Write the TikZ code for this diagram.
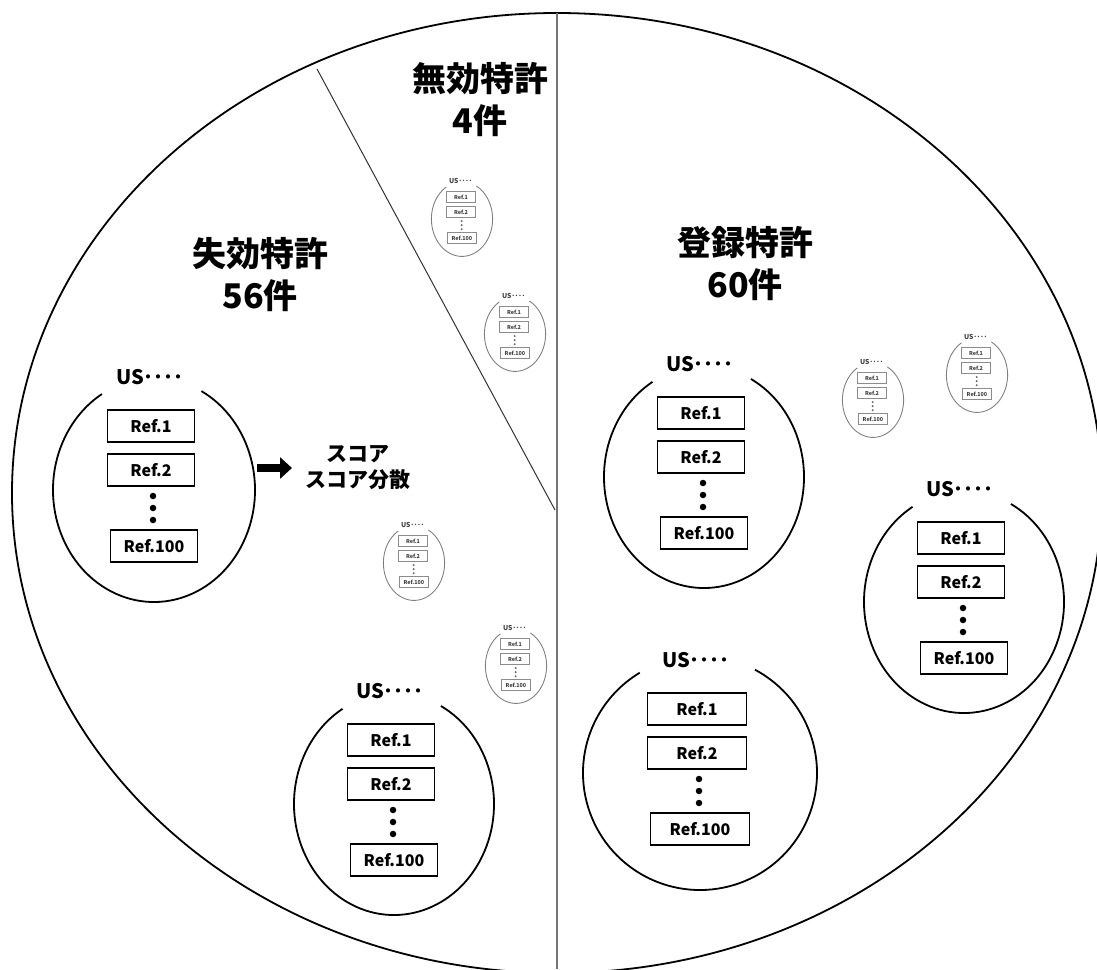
\documentclass[tikz,border=0pt]{standalone}
\usepackage{fontspec}
\setmainfont{Noto Sans CJK JP}
\usetikzlibrary{positioning,arrows.meta}

\tikzset{
  refbox/.style={draw, line width=1.8pt, minimum width=87pt, minimum height=32pt, inner sep=0pt, font=\fontsize{16}{16}\selectfont\bfseries},
  uslabel/.style={inner sep=0pt, font=\fontsize{20}{20}\selectfont\bfseries},
  refdot/.style={circle, fill, inner sep=0pt, minimum size=6.5pt},
  usring/.style={line width=1.8pt},
  faded/.style={scale=0.34, transform shape,
    refbox/.append style={draw=black!45, line width=0.7pt, text=black!75},
    usring/.append style={draw=black!50, line width=0.9pt},
    uslabel/.append style={text=black!75},
    refdot/.append style={fill=black!60}},
  bigtitle/.style={inner sep=0pt, align=center, font=\fontsize{34}{42}\selectfont\bfseries},
  scoretext/.style={inner sep=0pt, align=center, font=\fontsize{21}{26}\selectfont\bfseries},
  fatarrow/.style={line width=8pt, -{Triangle[length=12pt,width=21pt]}, shorten >=13pt}
}

% one patent: US number, its references, ring round them
\newcommand{\usgroup}[5][]{%
  \begin{scope}[shift={#3}, #1]
    \node[uslabel] (#2-us) at (-4,-113) {US････};
    \node[refbox] (#2-r1) at (-3,-64) {Ref.1};
    \node[refbox] (#2-r2) at (-3,-20) {Ref.2};
    \node[refdot] (#2-d1) at (-1,6) {};
    \node[refdot] (#2-d2) at (-1,18) {};
    \node[refdot] (#2-d3) at (-1,30) {};
    \node[refbox] (#2-r100) at (0,56) {Ref.100};
    \draw[usring] (-62:#4 and #5) arc[start angle=-62, end angle=239, x radius=#4, y radius=#5];
  \end{scope}}

\begin{document}
\begin{tikzpicture}[x=1pt, y=-1pt]
  \useasboundingbox (0,0) rectangle (1097,969);
  \clip (0,0) rectangle (1097,969);

  % whole set and its three parts
  \draw[line width=1.8pt] (557,493) ellipse [x radius=545, y radius=480];
  \draw[line width=1.5pt, black!55] (557,13) -- (557,969);
  \draw[line width=1pt, black!80] (317,69) -- (555,510);

  \node[bigtitle] (lapsed) at (260,274) {失効特許\\56件};
  \node[bigtitle] (invalid) at (480,99) {無効特許\\4件};
  \node[bigtitle] (granted) at (745,263) {登録特許\\60件};

  % lapsed
  \usgroup{lapA}{(154,490)}{101}{112}
  \usgroup{lapB}{(394,804)}{100}{111}
  \usgroup[faded]{lapC}{(414,563)}{90}{110}
  \usgroup[faded]{lapD}{(516,666)}{90}{110}

  % invalid
  \usgroup[faded]{invA}{(462,219)}{90}{110}
  \usgroup[faded]{invB}{(515,334)}{90}{110}

  % granted
  \usgroup{grA}{(704,477)}{100}{111}
  \usgroup{grB}{(964,602)}{100}{111}
  \usgroup[refbox/.append style={minimum width=99pt}]{grC}{(700,773)}{117}{117}
  \usgroup[faded]{grD}{(873,400)}{90}{110}
  \usgroup[faded]{grE}{(977,375)}{90}{110}

  \coordinate (arrowstart) at (257,468);
  \node[scoretext] (score) [right=48pt of arrowstart] {スコア\\スコア分散};
  \draw[fatarrow] (arrowstart) -- (score.west);
\end{tikzpicture}
\end{document}
